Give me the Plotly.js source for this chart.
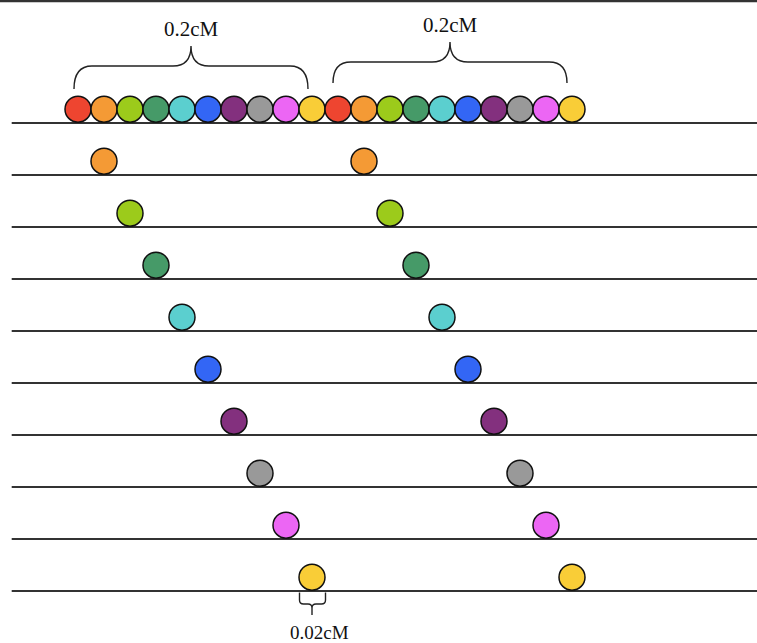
<!DOCTYPE html>
<html>
<head>
<meta charset="utf-8">
<script src="https://cdn.plot.ly/plotly-3.0.1.min.js"></script>
<style>html,body{margin:0;padding:0;background:#fff;}#chart{width:757px;height:643px;}</style>
</head>
<body>
<div id="chart"></div>
<script>
// ---- DATA ----
// marker colours (10 markers, repeated in two blocks)
const markerColors = ["#ee4530", "#f49a35", "#9ccb1b", "#469a68", "#5bcfcf",
                      "#3366f5", "#83307e", "#999999", "#ec66f4", "#f9cd37"];
// positions of the 20 markers along the chromosome (cM)
const markerPos = [0.00, 0.02, 0.04, 0.06, 0.08, 0.10, 0.12, 0.14, 0.16, 0.18,
                   0.20, 0.22, 0.24, 0.26, 0.28, 0.30, 0.32, 0.34, 0.36, 0.38];
// colour index of each marker
const markerColorIdx = [0, 1, 2, 3, 4, 5, 6, 7, 8, 9,
                        0, 1, 2, 3, 4, 5, 6, 7, 8, 9];
// chromosome rows (0 = reference row with all markers)
const rows = [0, 1, 2, 3, 4, 5, 6, 7, 8, 9];
// which markers sit on each row
const rowMarkers = [
  [0, 1, 2, 3, 4, 5, 6, 7, 8, 9, 10, 11, 12, 13, 14, 15, 16, 17, 18, 19],
  [1, 11], [2, 12], [3, 13], [4, 14], [5, 15], [6, 16], [7, 17], [8, 18], [9, 19]
];
// chromosome extent (cM)
const chromStart = -0.051;
const chromEnd = 0.54;
// interval labels
const braceLabels = ["0.2cM", "0.2cM"];
const braceFrom = [0, 10];   // first marker index of each brace
const braceTo = [9, 19];     // last marker index of each brace
const spacingLabel = "0.02cM";

// ---- LAYOUT HELPERS ----
const W = 757, H = 643;
const pxPerCM = 1300;
const x0px = 78;           // pixel of position 0
const rowPx = 52, row0px = 123;
const xRange = [-x0px / pxPerCM, (W - x0px) / pxPerCM];
const yRange = [(H - row0px) / rowPx, -row0px / rowPx];
const dx = p => p / pxPerCM;     // pixel length -> cM
const dy = p => p / rowPx;       // pixel length -> row units
const markerLift = dy(13.8);

const traces = [];
// chromosome lines
rows.forEach(r => {
  traces.push({
    type: "scatter", mode: "lines",
    x: [chromStart, chromEnd], y: [r, r],
    line: {color: "#333333", width: 2},
    hoverinfo: "skip", showlegend: false
  });
});
// markers
rows.forEach(r => {
  const idx = rowMarkers[r];
  traces.push({
    type: "scatter", mode: "markers",
    x: idx.map(i => markerPos[i]),
    y: idx.map(() => r - markerLift),
    marker: {
      size: 26,
      color: idx.map(i => markerColors[markerColorIdx[i]]),
      line: {color: "#111111", width: 1.5}
    },
    hoverinfo: "skip", showlegend: false
  });
});

// braces over the top row
function bracePath(xa, xb, yBase, yBar, yTip) {
  const xm = (xa + xb) / 2;
  const c = dx(18);
  return `M ${xa},${yBase} Q ${xa},${yBar} ${xa + c},${yBar} L ${xm - c},${yBar} ` +
         `Q ${xm},${yBar} ${xm},${yTip} Q ${xm},${yBar} ${xm + c},${yBar} ` +
         `L ${xb - c},${yBar} Q ${xb},${yBar} ${xb},${yBase}`;
}
const shapes = [];
const annotations = [];
const braceGeom = [
  {shift: dx(-4), base: dy(-34), bar: dy(-57), tip: dy(-77), lab: dy(-94)},
  {shift: dx(-5), base: dy(-40), bar: dy(-61), tip: dy(-81), lab: dy(-98)}
];
braceLabels.forEach((lab, k) => {
  const g = braceGeom[k];
  const xa = markerPos[braceFrom[k]] + g.shift;
  const xb = markerPos[braceTo[k]] + g.shift;
  shapes.push({
    type: "path", xref: "x", yref: "y",
    path: bracePath(xa, xb, g.base, g.bar, g.tip),
    line: {color: "#222222", width: 1.4}
  });
  annotations.push({
    x: (xa + xb) / 2, y: g.lab, xref: "x", yref: "y",
    text: lab, showarrow: false,
    font: {family: "Liberation Serif, Times New Roman, serif", size: 21, color: "#111"}
  });
});

// small brace under last row marker (spacing 0.02 cM)
(function () {
  const r = 9;
  const m = rowMarkers[r][0];
  const xc = markerPos[m];
  const xa = xc - dx(12.5), xb = xc + dx(13.5);
  const y1 = r + dy(1.5), y2 = r + dy(9), y3 = r + dy(13), y4 = r + dy(24);
  const cx = dx(4), cy = dy(4);
  const path = `M ${xa},${y1} L ${xa},${y2} Q ${xa},${y3} ${xa + cx},${y3} L ${xc - cx},${y3} ` +
               `Q ${xc},${y3} ${xc},${y3 + cy} L ${xc},${y4} M ${xc},${y3 + cy} ` +
               `Q ${xc},${y3} ${xc + cx},${y3} L ${xb - cx},${y3} Q ${xb},${y3} ${xb},${y2} L ${xb},${y1}`;
  shapes.push({type: "path", xref: "x", yref: "y", path: path,
               line: {color: "#222222", width: 1.4}});
  annotations.push({
    x: xc + dx(7), y: r + dy(41), xref: "x", yref: "y",
    text: spacingLabel, showarrow: false,
    font: {family: "Liberation Serif, Times New Roman, serif", size: 19, color: "#111"}
  });
})();

// top frame line
shapes.push({type: "line", xref: "paper", yref: "paper", x0: 0, x1: 1, y0: 0.9985, y1: 0.9985,
             line: {color: "#333333", width: 2.5}});

const layout = {
  width: W, height: H,
  margin: {l: 0, r: 0, t: 0, b: 0, pad: 0},
  paper_bgcolor: "#ffffff", plot_bgcolor: "#ffffff",
  xaxis: {range: xRange, visible: false, showgrid: false, zeroline: false, fixedrange: true},
  yaxis: {range: yRange, visible: false, showgrid: false, zeroline: false, fixedrange: true},
  shapes: shapes, annotations: annotations,
  showlegend: false
};
Plotly.newPlot("chart", traces, layout, {staticPlot: true, displayModeBar: false});
</script>
</body>
</html>
